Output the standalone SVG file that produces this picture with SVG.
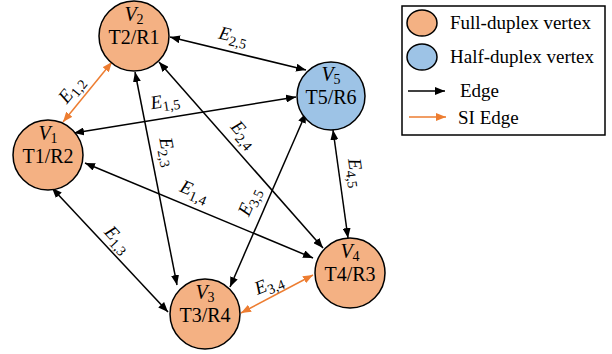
<svg xmlns="http://www.w3.org/2000/svg" width="612" height="354" viewBox="0 0 612 354">
<style>
.full{fill:#F4B183;stroke:#000;stroke-width:1.5}
.half{fill:#9DC3E6;stroke:#000;stroke-width:1.5}
.nt{font-family:"Liberation Serif",serif;font-size:20px;fill:#000;text-anchor:middle}
.vi{font-style:italic}
.sub{font-size:14px}
.e{stroke:#000;stroke-width:1.5;fill:none;marker-start:url(#ab);marker-end:url(#ab)}
.si{stroke:#ED7D31;stroke-width:1.5;fill:none;marker-start:url(#ao);marker-end:url(#ao)}
.el{font-family:"Liberation Serif",serif;font-size:19px;fill:#000;text-anchor:middle}
.lt{font-family:"Liberation Serif",serif;font-size:19px;fill:#000}
</style>
<defs>
<marker id="ab" viewBox="0 0 10 8" refX="10" refY="4" markerWidth="10" markerHeight="8" markerUnits="userSpaceOnUse" orient="auto-start-reverse"><path d="M0,0 L10,4 L0,8 z" fill="#000"/></marker>
<marker id="ao" viewBox="0 0 10 8" refX="10" refY="4" markerWidth="10" markerHeight="8" markerUnits="userSpaceOnUse" orient="auto-start-reverse"><path d="M0,0 L10,4 L0,8 z" fill="#ED7D31"/></marker>
<marker id="lb" viewBox="0 0 10 8" refX="10" refY="4" markerWidth="10" markerHeight="8" markerUnits="userSpaceOnUse" orient="auto"><path d="M0,0 L10,4 L0,8 z" fill="#000"/></marker>
<marker id="lo" viewBox="0 0 10 8" refX="10" refY="4" markerWidth="10" markerHeight="8" markerUnits="userSpaceOnUse" orient="auto"><path d="M0,0 L10,4 L0,8 z" fill="#ED7D31"/></marker>
</defs>

<g id="connectors">
<line class="si" x1="63" y1="122" x2="112" y2="62"/>
<line class="e" x1="170" y1="37" x2="306" y2="70"/>
<line class="e" x1="74" y1="133" x2="296" y2="97"/>
<line class="e" x1="135" y1="72" x2="177" y2="285"/>
<line class="e" x1="159" y1="62" x2="323" y2="248"/>
<line class="e" x1="85" y1="163" x2="313" y2="258"/>
<line class="e" x1="52" y1="188" x2="168" y2="312"/>
<line class="e" x1="230" y1="287" x2="306" y2="113"/>
<line class="e" x1="333" y1="130" x2="348" y2="238"/>
<line class="si" x1="241" y1="313" x2="313" y2="275"/>
<g id="edge-labels">
<text class="el" y="5" transform="translate(72,90) rotate(-51)"><tspan class="vi">E</tspan><tspan class="sub" dy="4">1,2</tspan></text>
<text class="el" y="5" transform="translate(233,37) rotate(14)"><tspan class="vi">E</tspan><tspan class="sub" dy="4">2,5</tspan></text>
<text class="el" y="5" transform="translate(165,102) rotate(-9)"><tspan class="vi">E</tspan><tspan class="sub" dy="4">1,5</tspan></text>
<text class="el" y="5" transform="translate(167,152) rotate(79)"><tspan class="vi">E</tspan><tspan class="sub" dy="4">2,3</tspan></text>
<text class="el" y="5" transform="translate(243,135) rotate(49)"><tspan class="vi">E</tspan><tspan class="sub" dy="4">2,4</tspan></text>
<text class="el" y="5" transform="translate(194,192) rotate(23)"><tspan class="vi">E</tspan><tspan class="sub" dy="4">1,4</tspan></text>
<text class="el" y="5" transform="translate(117,240) rotate(47)"><tspan class="vi">E</tspan><tspan class="sub" dy="4">1,3</tspan></text>
<text class="el" y="5" transform="translate(250,202) rotate(-66)"><tspan class="vi">E</tspan><tspan class="sub" dy="4">3,5</tspan></text>
<text class="el" y="5" transform="translate(355,173) rotate(82)"><tspan class="vi">E</tspan><tspan class="sub" dy="4">4,5</tspan></text>
<text class="el" y="5" transform="translate(269,285) rotate(-22)"><tspan class="vi">E</tspan><tspan class="sub" dy="4">3,4</tspan></text>
</g>
</g>

<g id="V1">
<circle class="full" cx="48" cy="155" r="35"/>
<text class="nt" x="48" y="140"><tspan class="vi">V</tspan><tspan class="sub" dy="3">1</tspan></text>
<text class="nt" x="48" y="163">T1/R2</text>
</g>
<g id="V2">
<circle class="full" cx="134" cy="36" r="35"/>
<text class="nt" x="134" y="21"><tspan class="vi">V</tspan><tspan class="sub" dy="3">2</tspan></text>
<text class="nt" x="134" y="44">T2/R1</text>
</g>
<g id="V3">
<circle class="full" cx="205" cy="314" r="35"/>
<text class="nt" x="205" y="299"><tspan class="vi">V</tspan><tspan class="sub" dy="3">3</tspan></text>
<text class="nt" x="205" y="322">T3/R4</text>
</g>
<g id="V4">
<circle class="full" cx="350" cy="273" r="35"/>
<text class="nt" x="350" y="258"><tspan class="vi">V</tspan><tspan class="sub" dy="3">4</tspan></text>
<text class="nt" x="350" y="281">T4/R3</text>
</g>
<g id="V5">
<circle class="half" cx="331" cy="96" r="34"/>
<text class="nt" x="331" y="81"><tspan class="vi">V</tspan><tspan class="sub" dy="3">5</tspan></text>
<text class="nt" x="331" y="104">T5/R6</text>
</g>

<g id="legend">
<rect x="402" y="6" width="203" height="129" fill="#fff" stroke="#000" stroke-width="1.5"/>
<ellipse class="full" cx="422" cy="23" rx="15" ry="13"/>
<text class="lt" x="450" y="29">Full-duplex vertex</text>
<ellipse class="half" cx="422" cy="57" rx="15" ry="13"/>
<text class="lt" x="450" y="63">Half-duplex vertex</text>
<line x1="408" y1="91" x2="445" y2="91" stroke="#000" stroke-width="1.5" marker-end="url(#lb)"/>
<text class="lt" x="460" y="97">Edge</text>
<line x1="409" y1="117" x2="446" y2="117" stroke="#ED7D31" stroke-width="1.5" marker-end="url(#lo)"/>
<text class="lt" x="458" y="124">SI Edge</text>
</g>
</svg>
